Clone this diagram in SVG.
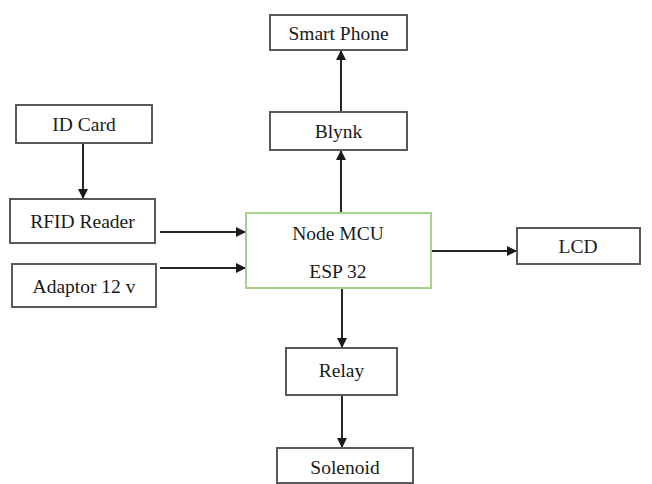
<svg xmlns="http://www.w3.org/2000/svg" width="652" height="484" viewBox="0 0 652 484">
<style>
.box{fill:#fff;stroke:#595959;stroke-width:2}
.mcu{fill:#fff;stroke:#a9d18e;stroke-width:2}
text{font-family:'Liberation Serif','Times New Roman',serif;font-size:19.5px;fill:#1a1a1a;text-anchor:middle}
.c{stroke:#262626;stroke-width:2;fill:none;marker-end:url(#ah)}
</style>
<defs>
<marker id="ah" markerWidth="10" markerHeight="10" refX="9" refY="5" orient="auto" markerUnits="userSpaceOnUse">
<path d="M0,0 L10,5 L0,10 z" fill="#1a1a1a"/>
</marker>
</defs>
<rect width="652" height="484" fill="#fff"/>
<g id="connectors">
<line class="c" x1="341" y1="112" x2="341" y2="51"/>
<line class="c" x1="341" y1="213" x2="341" y2="151"/>
<line class="c" x1="83" y1="143" x2="83" y2="198"/>
<line class="c" x1="160" y1="232" x2="245" y2="232"/>
<line class="c" x1="160" y1="268" x2="245" y2="268"/>
<line class="c" x1="431" y1="251" x2="516" y2="251"/>
<line class="c" x1="342" y1="288" x2="342" y2="347"/>
<line class="c" x1="342" y1="395" x2="342" y2="447"/>
</g>
<g id="smartphone"><rect class="box" x="270" y="15" width="137" height="35"/><text x="338.5" y="40">Smart Phone</text></g>
<g id="blynk"><rect class="box" x="270" y="112" width="137" height="38"/><text x="338.5" y="138">Blynk</text></g>
<g id="idcard"><rect class="box" x="16" y="105" width="136" height="38"/><text x="84" y="131">ID Card</text></g>
<g id="rfid"><rect class="box" x="10" y="199" width="145" height="44"/><text x="82.5" y="228">RFID Reader</text></g>
<g id="adaptor"><rect class="box" x="12" y="264" width="144" height="43"/><text x="84" y="293">Adaptor 12 v</text></g>
<g id="nodemcu"><rect class="mcu" x="246" y="213" width="185" height="75"/><text x="338" y="240">Node MCU</text><text x="338" y="278">ESP 32</text></g>
<g id="lcd"><rect class="box" x="517" y="228" width="123" height="36"/><text x="578" y="253">LCD</text></g>
<g id="relay"><rect class="box" x="286" y="348" width="111" height="47"/><text x="341.5" y="377">Relay</text></g>
<g id="solenoid"><rect class="box" x="277" y="448" width="136" height="35"/><text x="345" y="474">Solenoid</text></g>
</svg>
